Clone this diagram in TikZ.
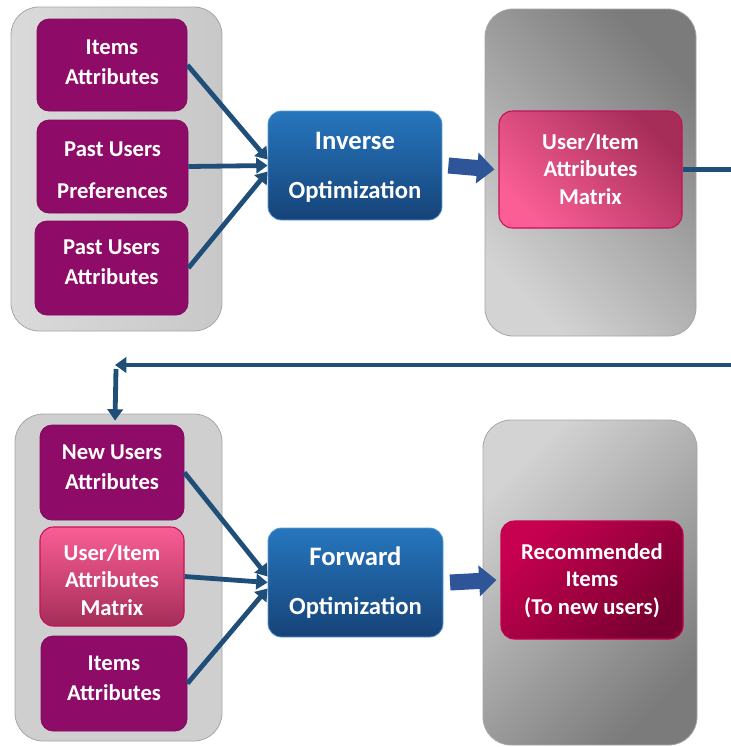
\documentclass[tikz,border=0pt]{standalone}
\usepackage{fontspec}
\setmainfont{Carlito}
\usetikzlibrary{arrows.meta,fit,calc}
\definecolor{purp}{HTML}{8E0B68}
\definecolor{purpb}{HTML}{7F0A5E}
\definecolor{blueT}{HTML}{2676BE}
\definecolor{blueB}{HTML}{164378}
\definecolor{blueL}{HTML}{5B9BD5}
\definecolor{lnk}{HTML}{1F4E79}
\definecolor{barrow}{HTML}{2E5597}
\definecolor{matD}{HTML}{A52D58}
\definecolor{matL}{HTML}{FA5E95}
\definecolor{matB}{HTML}{C8105A}
\definecolor{recT}{HTML}{C70050}
\definecolor{recB}{HTML}{780030}
\definecolor{contb}{HTML}{A6A6A6}
\definecolor{contL}{HTML}{DADADA}
\definecolor{contM}{HTML}{C8C8C8}
\definecolor{contG}{HTML}{D0CFD0}
\definecolor{grD}{HTML}{7B7B7B}
\definecolor{grL}{HTML}{D3D3D3}
\begin{document}
\begin{tikzpicture}[x=0.75pt,y=-0.75pt,
  cont/.style={draw=contb, line width=0.6pt, rounded corners=21pt, inner sep=0pt},
  pbox/.style={fill=purp, draw=purpb, line width=0.6pt, rounded corners=9pt, inner sep=0pt},
  mbox/.style={draw=matB, line width=0.8pt, rounded corners=10pt, inner sep=0pt},
  obox/.style={top color=blueT, bottom color=blueB, draw=blueL, line width=0.6pt,
    rounded corners=10pt, inner sep=0pt},
  txt/.style={text=white, align=center, inner sep=0pt, font=\bfseries\fontsize{17}{22.5}\selectfont},
  txtw/.style={txt, font=\bfseries\fontsize{17}{31.5}\selectfont},
  mtxt/.style={txt, font=\bfseries\fontsize{17}{20.6}\selectfont},
  otxt/.style={txt, font=\bfseries\fontsize{18.5}{36.75}\selectfont},
  link/.style={draw=lnk, line width=3.6pt, -{Triangle[length=8.5pt,width=11.5pt]}},
  blockarrow/.style={draw=barrow, line width=12pt, -{Triangle[length=13pt,width=22.5pt]}}
]
\useasboundingbox (0,0) rectangle (731,747);
\clip (0,0) rectangle (731,747);
\fill[white] (0,0) rectangle (731,747);

% containers
\node[cont, fit={(11,7) (222,331)}, left color=contL, right color=contM] (tl) {};
\node[cont, fit={(485,9) (696,336)}, top color=grD, bottom color=grL, shading angle=-45] (tr) {};
\node[cont, fit={(15,414) (222,741)}, fill=contG] (bl) {};
\node[cont, fit={(483,420) (697,745)}, top color=grL, bottom color=grD, shading angle=45] (br) {};

% top row boxes
\node[pbox, fit={(37,19) (187,111)}] (it) {};
\node[pbox, fit={(37,120) (188,213)}] (pup) {};
\node[pbox, fit={(35,221) (188,315)}] (pua) {};
\node[obox, fit={(268,111) (442,220)}] (inv) {};
\node[mbox, fit={(499,111) (682,228)}, top color=matD, bottom color=matL, shading angle=-45] (mat) {};

% bottom row boxes
\node[pbox, fit={(40,425) (184,520)}] (nua) {};
\node[mbox, fit={(40,527) (184,626)}, top color=matL, bottom color=matD] (mat2) {};
\node[pbox, fit={(41,636) (187,731)}] (it2) {};
\node[obox, fit={(268,528) (443,637)}] (fwd) {};
\node[mbox, draw=recT, fit={(501,521) (683,639)}, top color=recT, bottom color=recB, shading angle=45] (rec) {};

% texts
\node[txt, yshift=2.25pt] (itT) at (it) {Items\\Attributes};
\node[txtw, yshift=-2.6pt] (pupT) at (pup) {Past Users\\Preferences};
\node[txt, yshift=4.5pt] (puaT) at (pua) {Past Users\\Attributes};
\node[otxt, yshift=-1.5pt] (invT) at (inv) {{\fontsize{20}{36.75}\selectfont Inverse}\\Optimization};
\node[mtxt, yshift=0.4pt] (matT) at (mat) {User/Item\\Attributes\\Matrix};
\node[txt, yshift=3.75pt] (nuaT) at (nua) {New Users\\Attributes};
\node[mtxt, yshift=-2.4pt] (mat2T) at (mat2) {User/Item\\Attributes\\Matrix};
\node[txt, yshift=3.75pt] (it2T) at (it2) {Items\\Attributes};
\node[otxt] (fwdT) at (fwd) {{\fontsize{20}{36.75}\selectfont Forward}\\Optimization};
\node[mtxt, yshift=-0.4pt] (recT) at (rec) {Recommended\\Items\\(To new users)};

% converging links
\draw[link] (it.east) -- ([yshift=4.5pt]inv.west);
\draw[link] (pup.east) -- (inv.west);
\draw[link] (pua.east) -- ([yshift=-4.5pt]inv.west);
\draw[link] (nua.east) -- ([yshift=4.5pt]fwd.west);
\draw[link] (mat2.east) -- (fwd.west);
\draw[link] (it2.east) -- ([yshift=-4.5pt]fwd.west);

% block arrows
\draw[blockarrow] ([xshift=4.5pt]inv.east) -- ([xshift=-3pt]mat.west);
\draw[blockarrow] ([xshift=5pt]fwd.east) -- ([xshift=-3pt]rec.west);

% feedback loop
\coordinate (r2) at (745,365);
\coordinate (r1) at (mat.east -| r2);
\coordinate (lt) at (115,365);
\draw[link] (mat.east) -- (r1) -- (r2) -- (lt);
\draw[link] ([xshift=0.75pt,yshift=-3pt]lt) -- ([yshift=3pt]nua.north -| lt);
\end{tikzpicture}
\end{document}
